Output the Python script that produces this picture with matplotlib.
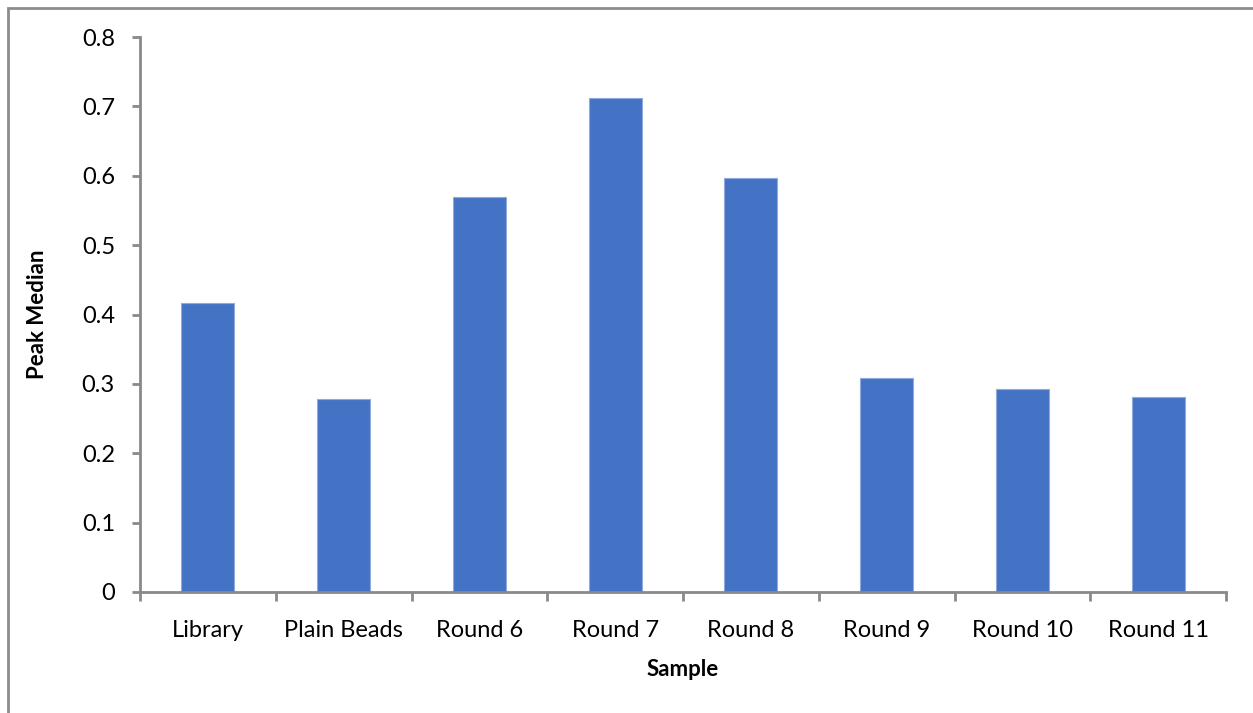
import matplotlib.pyplot as plt
from matplotlib.patches import Rectangle

# Peak median per sample
samples = ["Library", "Plain Beads", "Round 6", "Round 7", "Round 8",
           "Round 9", "Round 10", "Round 11"]
peak_median = [0.416, 0.278, 0.569, 0.712, 0.597, 0.308, 0.293, 0.281]
y_ticks = [0, 0.1, 0.2, 0.3, 0.4, 0.5, 0.6, 0.7, 0.8]
y_tick_labels = ["0", "0.1", "0.2", "0.3", "0.4", "0.5", "0.6", "0.7", "0.8"]

plt.rcParams["font.family"] = ["Lato", "DejaVu Sans"]

fig = plt.figure(figsize=(12.53, 7.13), dpi=100)
ax = fig.add_axes([140 / 1253, 1 - 592 / 713, 1086 / 1253, 555 / 713])

# chart area frame
fig.patches.append(Rectangle((8 / 1253, -0.1), 1.2, 1 - 8 / 713 + 0.1,
                             transform=fig.transFigure, fill=False,
                             edgecolor="#8c8c8c", linewidth=2))

x = range(len(samples))
ax.bar(x, peak_median, width=0.39, color="#4472C4",
       edgecolor="#8eaadb", linewidth=0.8)

ax.set_xlim(-0.5, len(samples) - 0.5)
ax.set_ylim(0, 0.8)
ax.set_yticks(y_ticks)
ax.set_yticklabels(y_tick_labels)
ax.set_xticks(list(x))
ax.set_xticklabels(samples)

# category separators on the x axis
ax.set_xticks([i - 0.5 for i in range(len(samples) + 1)], minor=True)
ax.tick_params(axis="x", which="major", length=0, pad=20, labelsize=17)
ax.tick_params(axis="x", which="minor", length=6.5, width=2, color="#898989")
ax.tick_params(axis="y", length=6, width=2, color="#898989", pad=12,
               labelsize=17)

for side in ("top", "right"):
    ax.spines[side].set_visible(False)
for side in ("left", "bottom"):
    ax.spines[side].set_color("#898989")
    ax.spines[side].set_linewidth(2)

ax.set_xlabel("Sample", fontsize=16, fontweight="bold", labelpad=13)
ax.set_ylabel("Peak Median", fontsize=16, fontweight="bold", labelpad=24)

fig.savefig("out.png", dpi=100)
